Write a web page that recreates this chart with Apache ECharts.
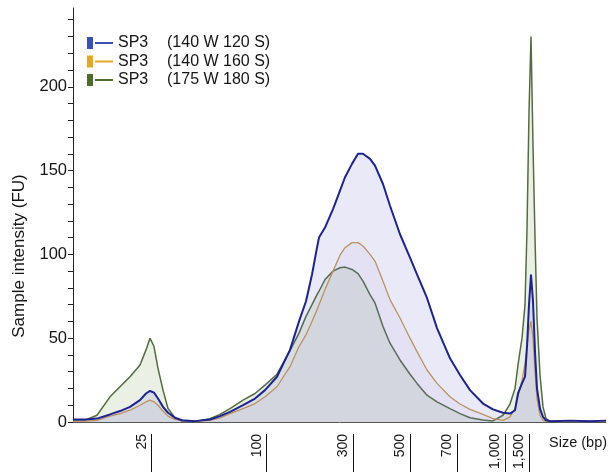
<!DOCTYPE html>
<html>
<head>
<meta charset="utf-8">
<script src="https://cdn.jsdelivr.net/npm/echarts@6.0.0/dist/echarts.min.js"></script>
<style>
    html, body { margin: 0; padding: 0; background: #fff; }
    #chart { width: 608px; height: 472px; }
</style>
</head>
<body>
<div id="chart"></div>
<script>
// migration time (s) of each sample point
const migrationTime = [40.0, 41.2, 42.4, 43.7, 44.7, 45.7, 46.7, 47.3, 47.7, 48.1, 48.5, 49.0, 49.5, 50.2, 50.9, 52.2,
    53.7, 54.7, 55.7, 57.0, 58.2, 59.2, 60.4, 61.7, 62.6, 63.3, 63.9, 64.4, 64.6, 65.2, 66.0, 66.7, 67.2, 67.9, 68.5,
    69.0, 69.7, 70.2, 71.0, 71.7, 72.7, 73.7, 74.4, 75.4, 76.4, 77.7, 78.7, 79.7, 81.0, 82.0, 83.0, 83.7, 84.2, 84.5,
    84.9, 85.2, 85.4, 85.6, 85.8, 86.0, 86.2, 86.4, 86.7, 87.0, 87.3, 87.7, 89.7, 91.7, 93.3];

// SP3 (140 W 120 S)
const blueFU = [1.5, 1.5, 2, 4.5, 6.5, 9, 13, 17, 18.5, 17.5, 14, 9, 5.5, 2.5, 1, 0.5,
    1.5, 3.5, 6, 10, 14, 19, 27, 43, 60, 72, 88, 104, 110, 116, 127, 138, 146, 154, 160,
    160, 157, 153, 142, 129, 112, 98, 88, 74, 56, 38, 28, 19, 11, 7.5, 5.5, 5, 7, 17,
    23, 27, 45, 70, 88, 72, 42, 20, 8, 3, 1, 0.5, 0.8, 0.5, 0.8];

// SP3 (140 W 160 S)
const orangeFU = [0.5, 0.5, 1, 3.5, 5, 7, 10, 12, 13, 12, 10, 6.5, 3.5, 1.5, 0.7, 0.3,
    1, 2.5, 5, 8, 11, 15, 21, 33, 45, 52, 60, 67, 70, 79, 90, 99.5, 104, 107, 107,
    105, 100, 96, 84, 73, 62, 50, 42, 31, 23, 15, 10.7, 7.5, 4.5, 2, 1, 3, 8, 15,
    25, 35, 45, 55, 60, 50, 30, 14, 4, 1, 0.5, 0.3, 0.3, 0.3, 0.3];

// SP3 (175 W 180 S)
const greenFU = [1, 1, 4, 15, 21, 27, 34, 43, 50, 45, 32, 19, 8, 2.5, 0.6, 0.3,
    2, 4.5, 8, 13, 17, 22, 28.5, 42.6, 53, 63, 70, 76, 78, 85, 90, 92, 92.4, 91, 88.5,
    84, 76, 71, 57, 47, 37, 28.5, 23, 16, 12, 8, 5, 2.5, 1.2, 0.6, 4, 10.7, 20, 34,
    50, 70, 115, 185, 230, 165, 110, 62, 28, 9, 2, 0.5, 0.3, 0.3, 0.3];

const sampleName = 'SP3';
const runLabels = ['(140 W 120 S)', '(140 W 160 S)', '(175 W 180 S)'];

// ladder sizes and where they sit on the time axis
const ladderSizes = ['25', '100', '300', '500', '700', '1,000', '1,500'];
const ladderTimes = [47.87, 59.37, 68.03, 73.7, 78.43, 83.2, 85.63];

const yLabelValues = [0, 50, 100, 150, 200];
const yTickValues = [0, 10, 20, 30, 40, 50, 60, 70, 80, 90, 100, 110, 120, 130, 140, 150, 160, 170, 180, 190, 200, 210, 220, 230, 240];

const font = '"Liberation Sans", Arial, sans-serif';

let chart = echarts.init(document.getElementById('chart'));

function pairs(vals) {
    return migrationTime.map((t, i) => [t, vals[i]]);
}

let names = runLabels.map(r => sampleName + ' ' + r);

let option = {
    animation: false,
    grid: { left: 73, right: 2, top: 8, bottom: 47, containLabel: false },
    legend: {
        orient: 'vertical',
        left: 82,
        top: 30,
        itemWidth: 26,
        itemHeight: 12,
        itemGap: 2.5,
        icon: 'path://M0,0h6v12h-6zM8,5h18v2h-18z',
        data: names,
        formatter: function (name) {
            let i = names.indexOf(name);
            return '{a|' + sampleName + '}{b|' + runLabels[i] + '}';
        },
        textStyle: {
            color: '#151515',
            fontFamily: font,
            fontSize: 16,
            rich: {
                a: { width: 49, fontSize: 16, fontFamily: font, color: '#151515' },
                b: { fontSize: 16, fontFamily: font, color: '#151515' }
            }
        }
    },
    xAxis: [
        {
            type: 'value',
            min: 40,
            max: 93.3,
            axisLine: { show: true, lineStyle: { color: '#555', width: 1 } },
            axisTick: { show: false },
            axisLabel: { show: false },
            splitLine: { show: false }
        },
        {
            type: 'value',
            min: 40,
            max: 93.3,
            position: 'bottom',
            offset: 12,
            axisLine: { show: false },
            axisTick: {
                show: true,
                customValues: ladderTimes,
                length: 40,
                lineStyle: { color: '#111', width: 1 }
            },
            axisLabel: {
                customValues: ladderTimes,
                rotate: 90,
                margin: 0,
                verticalAlign: 'bottom',
                padding: [0, 0, 3, 0],
                fontSize: 14,
                fontFamily: font,
                color: '#151515',
                formatter: function (v) {
                    let i = ladderTimes.findIndex(t => Math.abs(t - v) < 1e-6);
                    return i >= 0 ? ladderSizes[i] : '';
                }
            },
            splitLine: { show: false }
        }
    ],
    yAxis: {
        type: 'value',
        min: 0,
        max: 247,
        axisLine: { show: true, lineStyle: { color: '#222', width: 1 } },
        axisTick: {
            show: true,
            length: 5,
            customValues: yTickValues,
            lineStyle: { color: '#222' }
        },
        axisLabel: {
            customValues: yLabelValues,
            margin: 6,
            fontSize: 16.5,
            fontFamily: font,
            color: '#151515'
        },
        splitLine: { show: false }
    },
    graphic: [
        {
            type: 'text',
            x: 19,
            y: 256,
            rotation: Math.PI / 2,
            style: {
                text: 'Sample intensity (FU)',
                fontSize: 17,
                fontFamily: font,
                fill: '#151515',
                align: 'center',
                verticalAlign: 'middle'
            }
        },
        {
            type: 'text',
            x: 549,
            y: 443,
            style: {
                text: 'Size (bp)',
                fontSize: 14.5,
                fontFamily: font,
                fill: '#151515',
                align: 'left',
                verticalAlign: 'middle'
            }
        }
    ],
    series: [
        {
            name: names[2],
            type: 'line',
            data: pairs(greenFU),
            symbol: 'none',
            z: 2,
            itemStyle: { color: '#4f6b30' },
            lineStyle: { color: '#546c40', width: 1.5 },
            areaStyle: { color: 'rgba(110,150,70,0.2)' }
        },
        {
            name: names[1],
            type: 'line',
            data: pairs(orangeFU),
            symbol: 'none',
            z: 3,
            itemStyle: { color: '#e5a823' },
            lineStyle: { color: '#c99a52', width: 1.3 },
            areaStyle: { color: 'rgba(150,130,190,0.1)' }
        },
        {
            name: names[0],
            type: 'line',
            data: pairs(blueFU),
            symbol: 'none',
            z: 4,
            itemStyle: { color: '#3a4fb6' },
            lineStyle: { color: '#1e2391', width: 2 },
            areaStyle: { color: 'rgba(100,100,200,0.2)' }
        }
    ]
};

chart.setOption(option);
</script>
</body>
</html>
